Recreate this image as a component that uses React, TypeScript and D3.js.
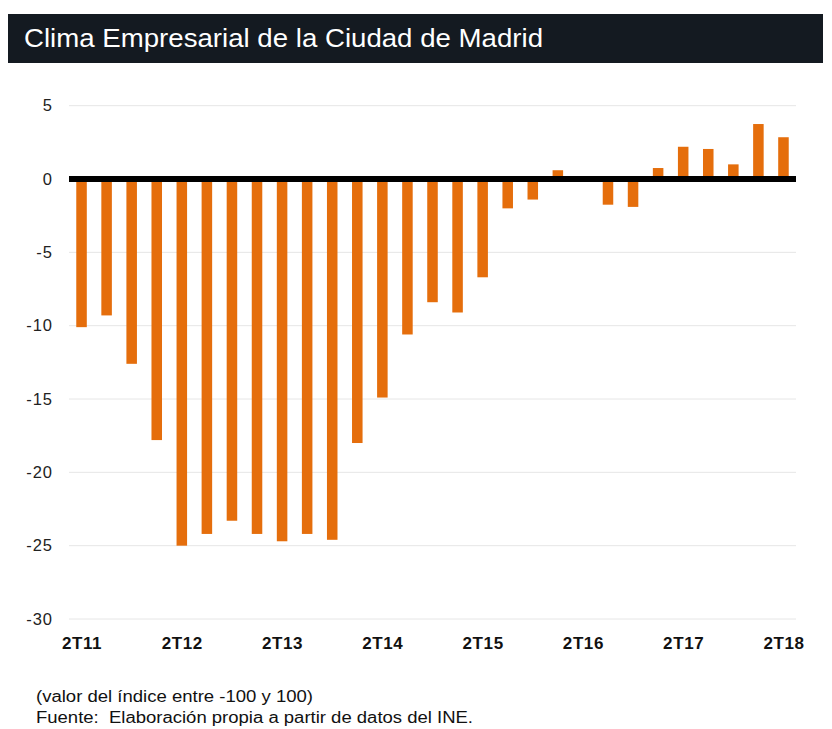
import React from "react";
import * as d3 from "d3";

const quarters = [
  "2T11","3T11","4T11","1T12","2T12","3T12","4T12","1T13","2T13","3T13","4T13",
  "1T14","2T14","3T14","4T14","1T15","2T15","3T15","4T15","1T16","2T16","3T16","4T16",
  "1T17","2T17","3T17","4T17","1T18","2T18",
];
const values = [
  -10.1, -9.3, -12.6, -17.8, -25.0, -24.2, -23.3, -24.2, -24.7, -24.2, -24.6,
  -18.0, -14.9, -10.6, -8.4, -9.1, -6.7, -2.0, -1.4, 0.6, 0, -1.75, -1.9,
  0.75, 2.2, 2.05, 1.0, 3.75, 2.85,
];
const yTicks = [5, 0, -5, -10, -15, -20, -25, -30];
const xLabels = ["2T11","2T12","2T13","2T14","2T15","2T16","2T17","2T18"];
const title = "Clima Empresarial de la Ciudad de Madrid";
const notes = ["(valor del índice entre -100 y 100)", "Fuente:  Elaboración propia a partir de datos del INE."];
const noteWidths = [277, 437];

export default function App() {
  const W = 832, H = 729;
  const font = "'Liberation Sans', Arial, Helvetica, sans-serif";
  const x = d3.scaleBand<string>().domain(quarters).range([69, 796]).paddingInner(0.58).paddingOuter(0.29);
  const y = d3.scaleLinear().domain([-30, 5]).range([619, 105.7]);
  const orange = "#e56e0c";
  return (
    <svg width={W} height={H} style={{ position: "absolute", left: 0, top: 0 }} fontFamily={font}>
      <rect x={0} y={0} width={W} height={H} fill="#fff" />
      <rect x={8} y={14} width={815} height={49} fill="#141a21" />
      <text x={24} y={47} fill="#fff" fontSize={25.5} textLength={519} lengthAdjust="spacingAndGlyphs">{title}</text>
      {yTicks.map((t) => (
        <g key={t}>
          {t !== 0 && <line x1={69} x2={796} y1={y(t)} y2={y(t)} stroke="#e6e6e6" strokeWidth={1} />}
          <text x={53} y={y(t)} dy="0.35em" textAnchor="end" fontSize={16.5} letterSpacing={1} fill="#222">{t}</text>
        </g>
      ))}
      {quarters.map((q, i) => {
        const v = values[i];
        const y0 = y(Math.max(0, v));
        const y1 = y(Math.min(0, v));
        return <rect key={q} x={x(q)} y={y0} width={x.bandwidth()} height={Math.max(0, y1 - y0)} fill={orange} />;
      })}
      <line x1={69} x2={796} y1={y(0)} y2={y(0)} stroke="#000" strokeWidth={6} />
      {xLabels.map((l) => (
        <text key={l} x={(x(l) ?? 0) + x.bandwidth() / 2 + 0.5} y={649} textAnchor="middle" fontSize={17} letterSpacing={0.6} fontWeight="bold" fill="#111">{l}</text>
      ))}
      {notes.map((n, i) => (
        <text key={i} x={36} y={702 + i * 21} fontSize={16} fill="#111" textLength={noteWidths[i]} lengthAdjust="spacingAndGlyphs" style={{ whiteSpace: "pre" }}>{n}</text>
      ))}
    </svg>
  );
}
